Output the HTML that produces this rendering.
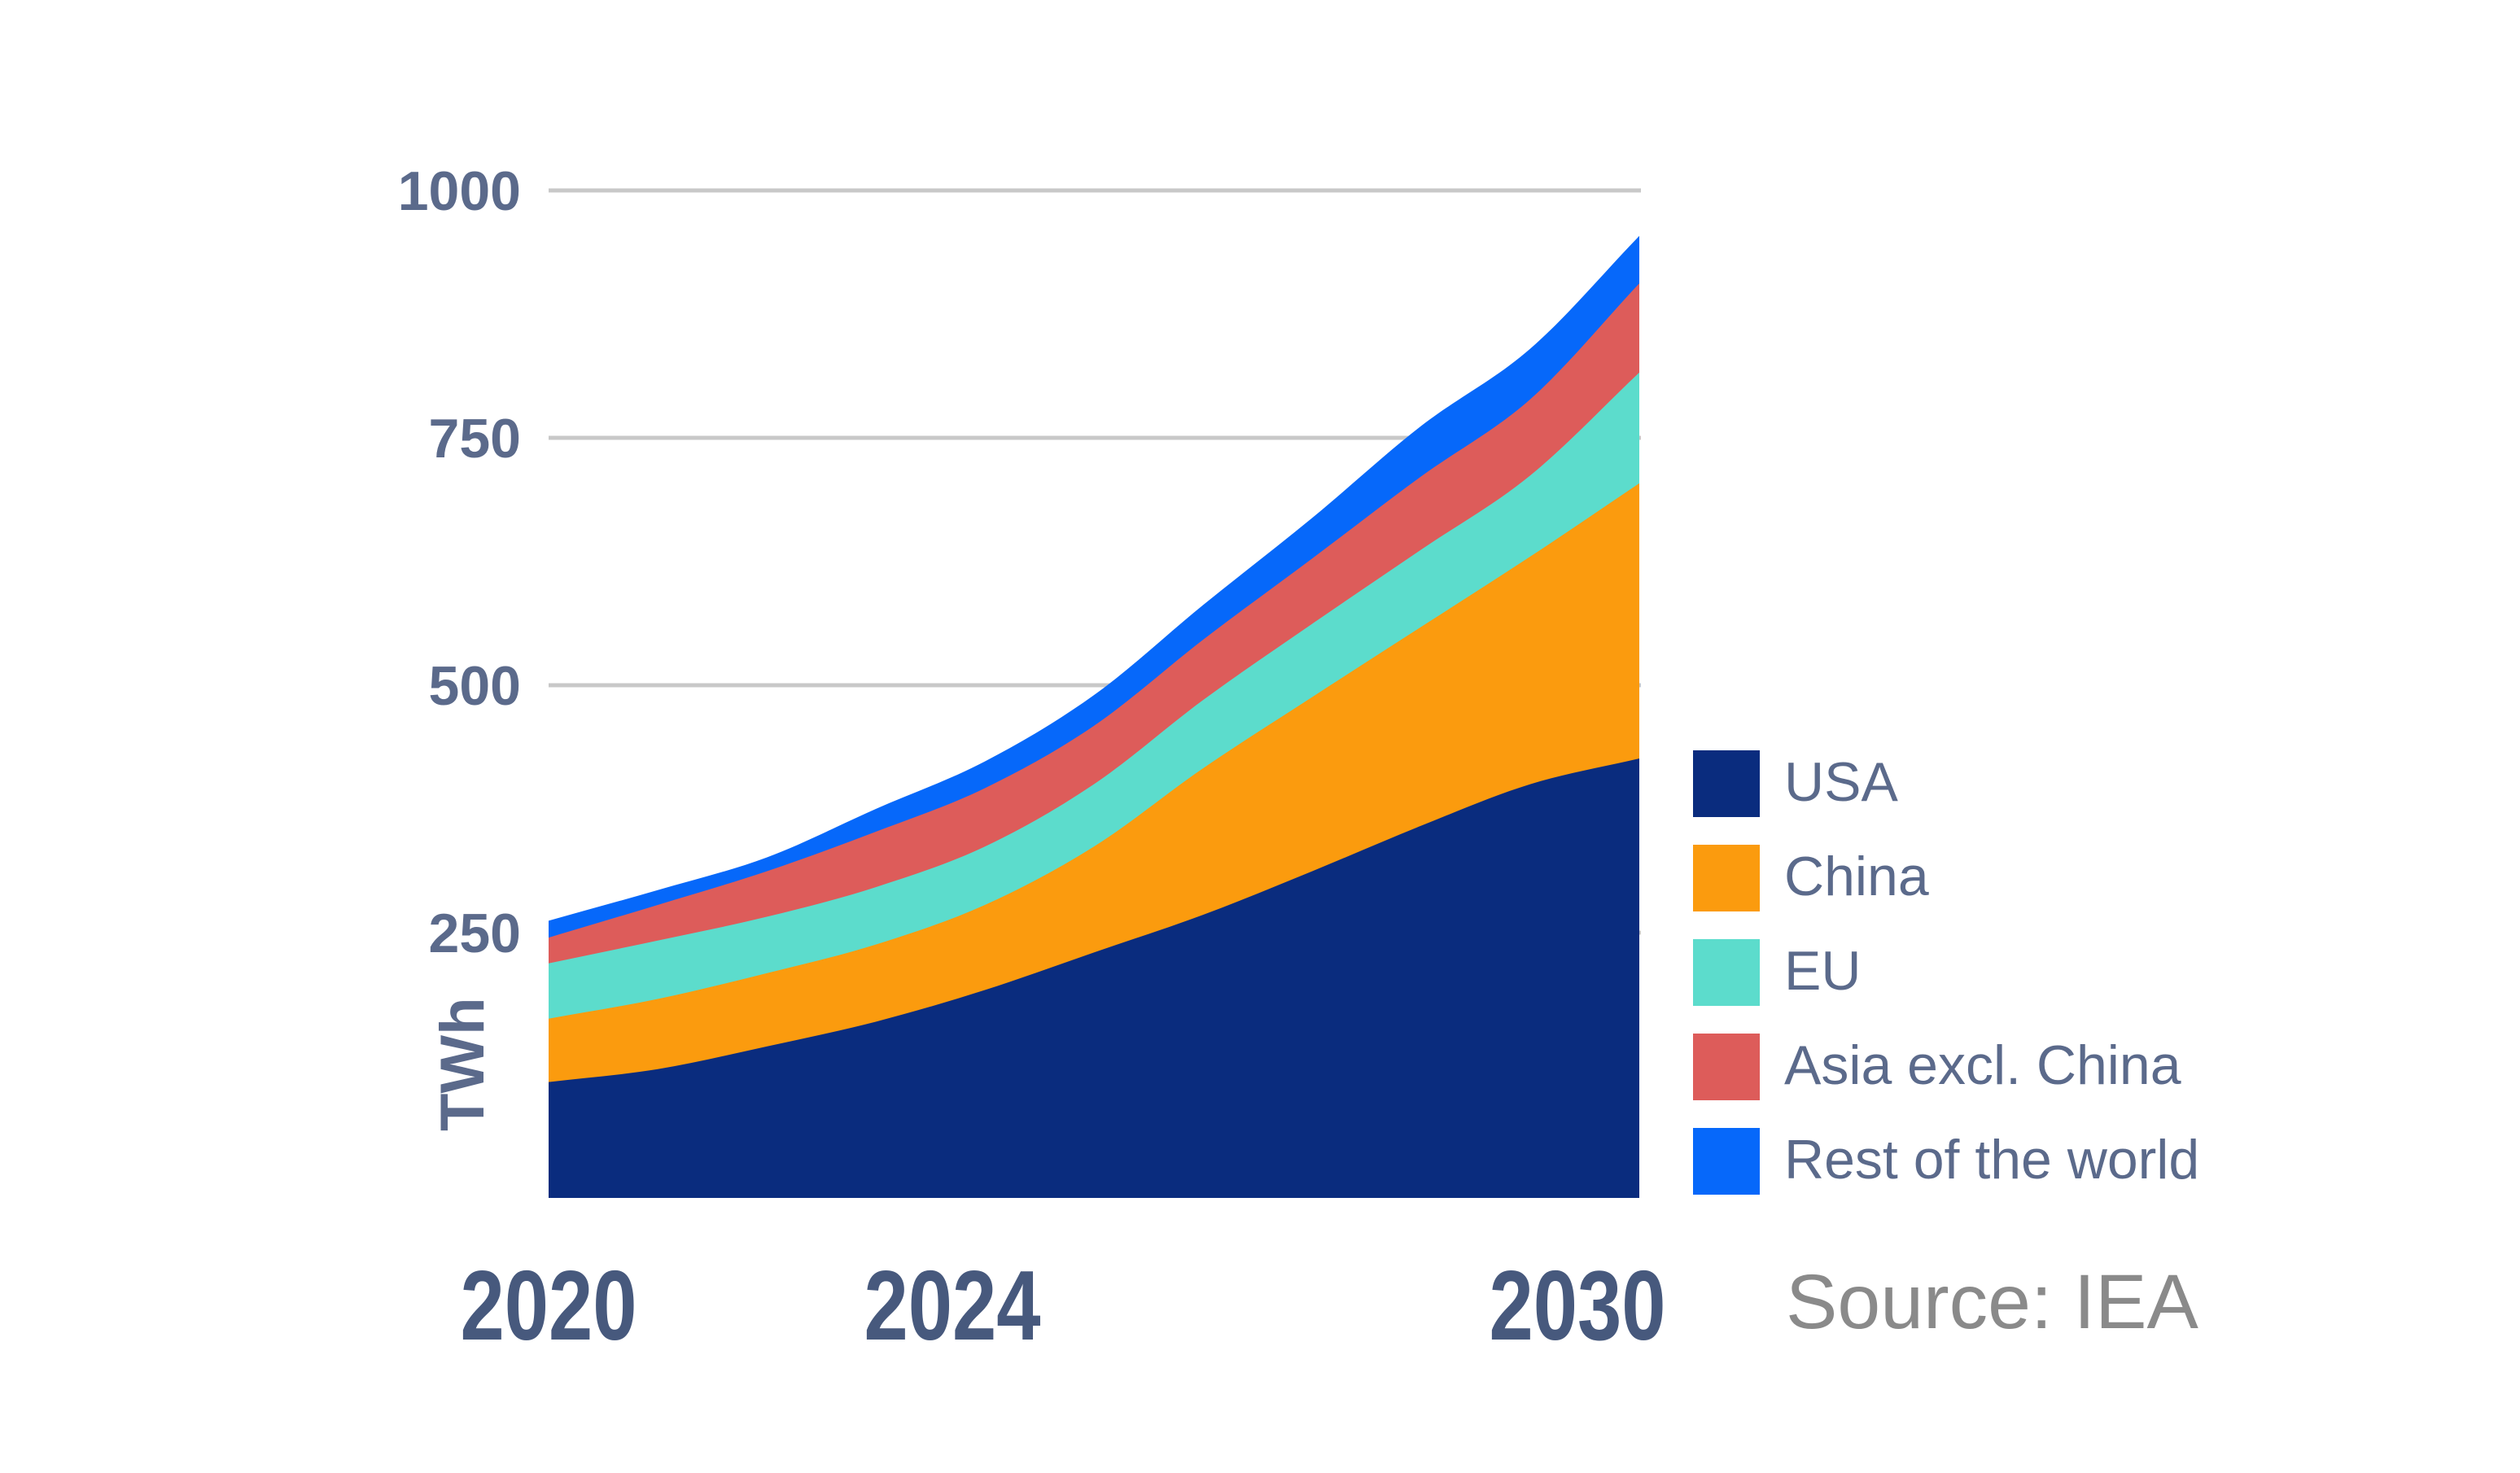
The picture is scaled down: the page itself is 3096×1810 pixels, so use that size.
<!DOCTYPE html>
<html><head><meta charset="utf-8"><style>
html,body{margin:0;padding:0;background:#fff;}
svg{display:block;}
</style></head><body>
<svg id="chart" width="3096" height="1810" viewBox="0 0 3096 1810" xmlns="http://www.w3.org/2000/svg" font-family="Liberation Sans, sans-serif">
<g id="grid"></g>
<g id="areas"></g>
<g id="ylabels"></g>
<g id="xlabels"></g>
<text transform="translate(594,1390) rotate(-90)" font-size="76" font-weight="bold" fill="#5b6a8b">TWh</text>
<g id="legend"></g>
<text x="2194" y="1632" font-size="95" fill="#8a8a8a">Source: IEA</text>
</svg>
<script>
const years = [2020,2021,2022,2023,2024,2025,2026,2027,2028,2029,2030];
const usa   = [99,112,135,160,192,230,268,312,358,400,426];
const china = [64,71,74,78,86,107,148,176,201,230,278];
const eu    = [56,59,57,58,59,63,69,74,78,82,112];
const asia  = [26,36,46,56,59,59,61,66,74,77,90];
const row   = [17,15,14,23,27,31,35,41,51,51,48];
const seriesNames = ["USA","China","EU","Asia excl. China","Rest of the world"];
const seriesColors = ["#0a2c7e","#fb9b0e","#5cdccc","#dd5c5a","#0668fa"];
const yTicks = [250,500,750,1000];
const xTickLabels = [2020,2024,2030];

const NS="http://www.w3.org/2000/svg";
const X0=674,X1=2014,BASE=1472;
function x(yr){return X0+(yr-2020)*(X1-X0)/10;}
function y(v){return 1450-v*1.216;}
function mk(tag,attrs,parent){const e=document.createElementNS(NS,tag);for(const k in attrs)e.setAttribute(k,attrs[k]);parent.appendChild(e);return e;}

const grid=document.getElementById('grid');
yTicks.forEach(t=>{
  const l=mk('line',{x1:674,x2:2016,y1:y(t),y2:y(t),stroke:'#c8c8c8','stroke-width':5},grid);
  
  
});

function smooth(pts){
  const n=pts.length, m=[];
  const dx=[],sl=[];
  for(let i=0;i<n-1;i++){dx.push(pts[i+1][0]-pts[i][0]);sl.push((pts[i+1][1]-pts[i][1])/dx[i]);}
  m[0]=sl[0];m[n-1]=sl[n-2];
  for(let i=1;i<n-1;i++){m[i]=(sl[i-1]*sl[i]<=0)?0:(sl[i-1]+sl[i])/2;}
  let d='M'+pts[0][0]+','+pts[0][1];
  for(let i=0;i<n-1;i++){
    const h=dx[i]/3;
    d+=' C'+(pts[i][0]+h)+','+(pts[i][1]+m[i]*h)+' '+(pts[i+1][0]-h)+','+(pts[i+1][1]-m[i+1]*h)+' '+pts[i+1][0]+','+pts[i+1][1];
  }
  return d;
}
const all=[usa,china,eu,asia,row];
const areas=document.getElementById('areas');
let cum=years.map(()=>0);
const tops=[];
all.forEach(s=>{cum=cum.map((c,i)=>c+s[i]);tops.push(cum.slice());});
for(let k=all.length-1;k>=0;k--){
  const pts=years.map((yr,i)=>[x(yr),y(tops[k][i])]);
  const d=smooth(pts)+' L'+X1+','+BASE+' L'+X0+','+BASE+' Z';
  const p=mk('path',{d:d,fill:seriesColors[k]},areas);
  
  
}

const yl=document.getElementById('ylabels');
yTicks.forEach(t=>{
  const e=mk('text',{x:640,y:y(t)+24,'text-anchor':'end','font-size':68,'font-weight':'bold',fill:'#5b6a8b'},yl);
  e.textContent=t;
  
  
});
const xl=document.getElementById('xlabels');
const xOff={2020:0,2024:-40,2030:-76};
xTickLabels.forEach(t=>{
  const cx=x(t)+xOff[t];
  const e=mk('text',{x:0,y:0,'text-anchor':'middle','font-size':122,'font-weight':'bold',fill:'#47597d',transform:'translate('+cx+',1646) scale(0.8,1)'},xl);
  e.textContent=t;
  
  
});
const lg=document.getElementById('legend');
seriesNames.forEach((n,i)=>{
  const yy=922+i*116;
  const r=mk('rect',{x:2080,y:yy,width:82,height:82,fill:seriesColors[i]},lg);
  
  
  const t=mk('text',{x:2192,y:yy+62,'font-size':68,fill:'#5b6a8b'},lg);
  t.textContent=n;
  
  
});
</script>
</body></html>
